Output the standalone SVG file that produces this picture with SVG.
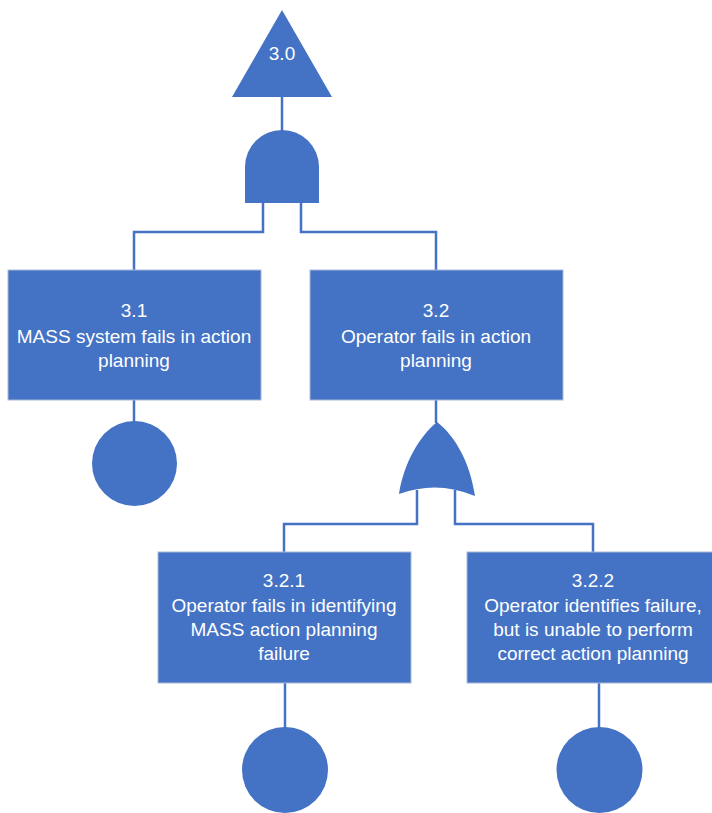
<svg xmlns="http://www.w3.org/2000/svg" width="712" height="813" viewBox="0 0 712 813">
<style>
.s{fill:#4472C4;}
.b{fill:#4472C4;stroke:#A9B8D9;stroke-width:1;}
.c{fill:none;stroke:#4472C4;stroke-width:2.5;}
.t{font-family:"Liberation Sans",Arial,sans-serif;font-size:19px;fill:#ffffff;text-anchor:middle;}
</style>
<rect width="712" height="813" fill="#ffffff"/>
<g id="connectors">
<path class="c" d="M282,97 V131"/>
<path class="c" d="M263,203 V232 H134 V270"/>
<path class="c" d="M301,203 V232 H436 V270"/>
<path class="c" d="M134,400 V422"/>
<path class="c" d="M436,400 V423"/>
<path class="c" d="M417,490 V524 H284 V552"/>
<path class="c" d="M455,490 V524 H593 V552"/>
<path class="c" d="M285,683 V728"/>
<path class="c" d="M599,683 V728"/>
</g>
<g id="top">
<polygon class="s" points="282,10 332,97 232,97"/>
<text class="t" x="282" y="60">3.0</text>
</g>
<g id="and-gate">
<path class="s" d="M245,203 V167 A37,37 0 0 1 319,167 V203 Z"/>
</g>
<g id="n31">
<rect class="b" x="8" y="270" width="253" height="130"/>
<text class="t" x="134" y="317">3.1</text>
<text class="t" x="134" y="343">MASS system fails in action</text>
<text class="t" x="134" y="367">planning</text>
</g>
<g id="n32">
<rect class="b" x="310" y="270" width="253" height="130"/>
<text class="t" x="436" y="317">3.2</text>
<text class="t" x="436" y="343">Operator fails in action</text>
<text class="t" x="436" y="367">planning</text>
</g>
<g id="e31">
<circle class="s" cx="134.5" cy="463.5" r="42.5"/>
</g>
<g id="or-gate">
<path class="s" d="M437,422 C420,436 404,462 399,494 Q437,480 475,496 C470,462 455,436 437,422 Z"/>
</g>
<g id="n321">
<rect class="b" x="158" y="552" width="253" height="131"/>
<text class="t" x="284" y="587">3.2.1</text>
<text class="t" x="284" y="612">Operator fails in identifying</text>
<text class="t" x="284" y="636">MASS action planning</text>
<text class="t" x="284" y="660">failure</text>
</g>
<g id="n322">
<rect class="b" x="467" y="552" width="253" height="131"/>
<text class="t" x="593" y="587">3.2.2</text>
<text class="t" x="593" y="612">Operator identifies failure,</text>
<text class="t" x="593" y="636">but is unable to perform</text>
<text class="t" x="593" y="660">correct action planning</text>
</g>
<g id="e321">
<circle class="s" cx="285" cy="770" r="43"/>
</g>
<g id="e322">
<circle class="s" cx="599.5" cy="770" r="43"/>
</g>
</svg>
